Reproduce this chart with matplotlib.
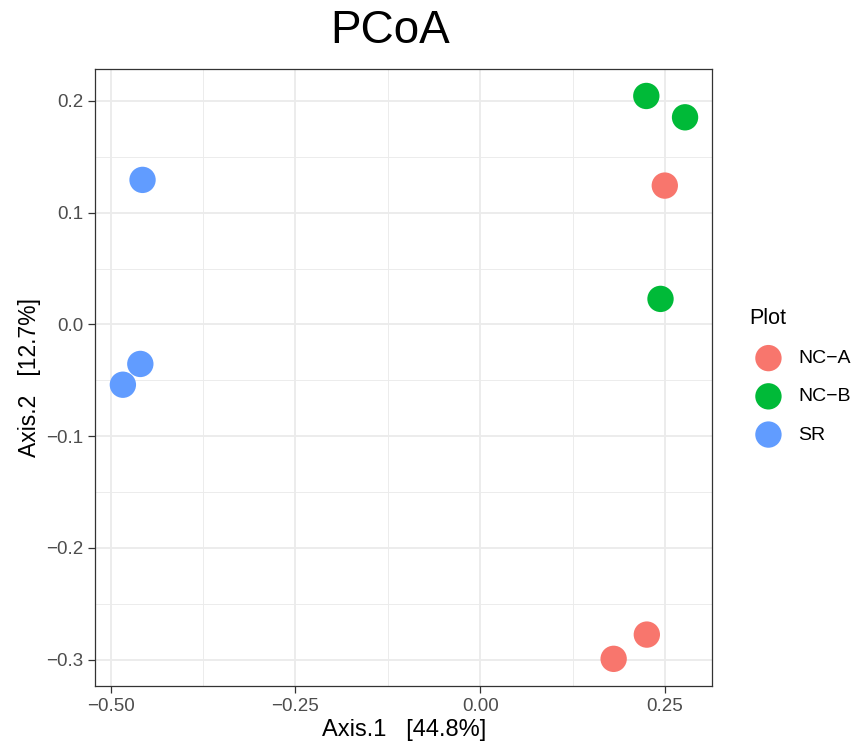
import matplotlib
matplotlib.use("Agg")
import matplotlib.pyplot as plt
from matplotlib.ticker import MultipleLocator

plt.rcParams['font.family'] = ['Liberation Sans', 'DejaVu Sans']

groups = ["NC−A", "NC−B", "SR"]
colors = ["#F8766D", "#00BA38", "#619CFF"]
nca_x = [0.2497, 0.2254, 0.1805]
nca_y = [0.1243, -0.2775, -0.2992]
ncb_x = [0.2247, 0.2771, 0.2439]
ncb_y = [0.2045, 0.1854, 0.0229]
sr_x = [-0.4568, -0.4598, -0.4834]
sr_y = [0.1294, -0.0353, -0.0539]

xticks = [-0.50, -0.25, 0.00, 0.25]
xticklabels = ["−0.50", "−0.25", "0.00", "0.25"]
yticks = [-0.3, -0.2, -0.1, 0.0, 0.1, 0.2]
yticklabels = ["−0.3", "−0.2", "−0.1", "0.0", "0.1", "0.2"]

W, H = 854, 743
fig = plt.figure(figsize=(W / 100, H / 100), dpi=100)
ax = fig.add_axes([95.3 / W, 1 - 686 / H, (712.4 - 95.3) / W, (686 - 68.7) / H])

series = [(nca_x, nca_y), (ncb_x, ncb_y), (sr_x, sr_y)]
for (xs, ys), g, c in zip(series, groups, colors):
    ax.scatter(xs, ys, s=360, color=c, edgecolors='none', label=g, zorder=3)

ax.set_xlim(-0.5207, 0.3141)
ax.set_ylim(-0.3235, 0.2289)
ax.set_xticks(xticks)
ax.set_xticklabels(xticklabels)
ax.set_yticks(yticks)
ax.set_yticklabels(yticklabels)
ax.xaxis.set_minor_locator(MultipleLocator(0.125))
ax.yaxis.set_minor_locator(MultipleLocator(0.05))

ax.grid(which='major', color='#EBEBEB', linewidth=1.3, zorder=0)
ax.grid(which='minor', color='#EBEBEB', linewidth=0.65, zorder=0)
ax.set_axisbelow(True)
for sp in ax.spines.values():
    sp.set_color('#333333')
    sp.set_linewidth(0.9)

ax.tick_params(which='major', length=5, width=0.9, color='#333333',
               labelcolor='#4D4D4D', labelsize=13.5, pad=3.6)
ax.tick_params(which='minor', length=0)

ax.set_xlabel("Axis.1   [44.8%]", fontsize=17, color='black', labelpad=3)
ax.set_ylabel("Axis.2   [12.7%]", fontsize=16.5, color='black', labelpad=4)
fig.text(390.5 / W, 1 - 42.7 / H, "PCoA", fontsize=33, color='black',
         ha='center', va='baseline')

leg = ax.legend(title="Plot", loc='upper left',
                bbox_to_anchor=(749 / W, 1 - 308 / H),
                bbox_transform=fig.transFigure, frameon=False,
                fontsize=14, title_fontsize=15.5, borderpad=0, borderaxespad=0,
                labelspacing=1.06, handlelength=2.0, handletextpad=0.52,
                alignment='left', scatterpoints=1)
for t in leg.get_texts():
    t.set_color('black')

fig.savefig("out.png", dpi=100)
